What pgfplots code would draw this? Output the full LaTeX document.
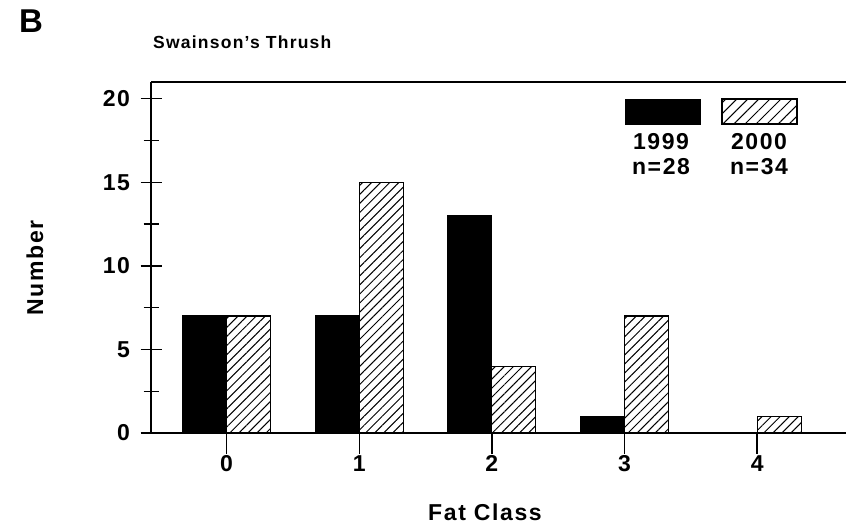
\documentclass[border=0pt]{standalone}
\usepackage{fontspec}
\setmainfont{Liberation Sans}[LetterSpace=7]
\usepackage{pgfplots}
\pgfplotsset{compat=1.18}
\usetikzlibrary{patterns.meta}

\begin{document}
\begin{tikzpicture}[x=1bp, y=1bp, font=\fontsize{23bp}{27bp}\selectfont\bfseries]
\path[use as bounding box] (0,0) rectangle (846,527);

\begin{axis}[
    at={(151bp,94bp)}, anchor=south west,
    scale only axis, width=695bp, height=351bp,
    xmin=-0.57, xmax=4.67, ymin=0, ymax=21,
    axis x line=bottom, axis y line=left,
    axis line style={-, line width=1.6bp},
    xtick={0,1,2,3,4},
    ytick={0,5,10,15,20},
    minor ytick={2.5,7.5,12.5,17.5},
    /pgf/number format/assume math mode=true,
    tick align=center,
    major tick length=21bp, minor tick length=15bp,
    tick style={line width=1.4bp, black},
    yticklabel style={xshift=-7bp},
    xticklabel style={yshift=2bp},
    ybar=0pt, bar width=44bp,
    clip=false,
]
\addplot[draw=black, fill=black, line width=1.2bp]
    coordinates {(0,7) (1,7) (2,13) (3,1) (4,0)};
\addplot[draw=black, line width=1.2bp, pattern={Lines[angle=45, distance=6.4bp, line width=1bp]}]
    coordinates {(0,7) (1,15) (2,4) (3,7) (4,1)};
\draw[line width=1.6bp] (rel axis cs:0,1) -- (rel axis cs:1,1);
\end{axis}

% legend
\draw[fill=black] (625,403) rectangle (700,428);
\draw[line width=1.2bp, pattern={Lines[angle=45, distance=7.8bp, line width=1bp]}] (722,403) rectangle (797,428);
\node at (661,385) {1999};
\node at (661,360) {n=28};
\node at (759,385) {2000};
\node at (759,360) {n=34};

% texts
\node[anchor=west, inner sep=0, font=\fontsize{17.5bp}{21bp}\selectfont\bfseries] at (153,485) {Swainson's Thrush};
\node[anchor=north west, inner sep=0, font=\fontsize{33bp}{38bp}\selectfont\bfseries] at (19,517) {B};
\node at (485,15) {Fat Class};
\node[rotate=90] at (35,259) {Number};
\end{tikzpicture}
\end{document}
